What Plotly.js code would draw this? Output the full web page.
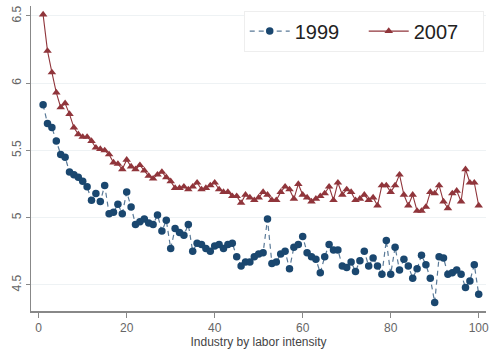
<!DOCTYPE html>
<html>
<head>
<meta charset="utf-8">
<script src="https://cdn.plot.ly/plotly-3.0.1.min.js"></script>
<style>
  html, body { margin: 0; padding: 0; background: #fff; }
  #chart { width: 490px; height: 350px; }
</style>
</head>
<body>
<div id="chart"></div>
<script>
// Industry rank by labor intensity (1..100)
const industry = Array.from({length: 100}, (_, k) => k + 1);

// Mean values per industry rank, 1999
const y1999 = [
  5.84, 5.70, 5.67, 5.57, 5.47, 5.45, 5.34, 5.32, 5.30, 5.27,
  5.23, 5.13, 5.18, 5.12, 5.24, 5.03, 5.04, 5.10, 5.03, 5.19,
  5.08, 4.95, 4.97, 4.99, 4.96, 4.95, 5.02, 4.90, 4.98, 4.77,
  4.92, 4.89, 4.87, 4.95, 4.75, 4.81, 4.80, 4.77, 4.75, 4.79,
  4.80, 4.77, 4.80, 4.81, 4.71, 4.64, 4.67, 4.67, 4.71, 4.73,
  4.74, 4.99, 4.66, 4.67, 4.73, 4.75, 4.62, 4.78, 4.80, 4.86,
  4.74, 4.71, 4.69, 4.59, 4.71, 4.80, 4.76, 4.76, 4.64, 4.63,
  4.67, 4.60, 4.68, 4.75, 4.64, 4.70, 4.64, 4.58, 4.83, 4.58,
  4.78, 4.61, 4.69, 4.64, 4.55, 4.62, 4.72, 4.65, 4.55, 4.37,
  4.71, 4.70, 4.58, 4.59, 4.61, 4.58, 4.48, 4.53, 4.65, 4.43
];

// Mean values per industry rank, 2007
const y2007 = [
  6.51, 6.24, 6.08, 5.93, 5.82, 5.85, 5.77, 5.67, 5.62, 5.60,
  5.60, 5.57, 5.52, 5.51, 5.50, 5.47, 5.41, 5.40, 5.36, 5.43,
  5.38, 5.36, 5.39, 5.35, 5.31, 5.29, 5.32, 5.34, 5.30, 5.27,
  5.22, 5.22, 5.23, 5.21, 5.23, 5.26, 5.21, 5.22, 5.24, 5.26,
  5.21, 5.19, 5.19, 5.16, 5.16, 5.11, 5.17, 5.15, 5.13, 5.15,
  5.19, 5.17, 5.13, 5.13, 5.19, 5.23, 5.21, 5.14, 5.25, 5.17,
  5.15, 5.12, 5.14, 5.16, 5.18, 5.23, 5.13, 5.26, 5.17, 5.21,
  5.19, 5.13, 5.14, 5.17, 5.13, 5.15, 5.09, 5.24, 5.24, 5.19,
  5.24, 5.32, 5.17, 5.09, 5.17, 5.05, 5.05, 5.08, 5.19, 5.18,
  5.24, 5.12, 5.07, 5.18, 5.20, 5.12, 5.36, 5.26, 5.26, 5.09
];

const seriesNames = ['1999', '2007'];
const yTicks = [4.5, 5, 5.5, 6, 6.5];
const xTicks = [0, 20, 40, 60, 80, 100];

const navy = '#1a476f';
const maroon = '#90353b';
const font = 'Liberation Sans, Arial, sans-serif';

const traces = [
  {
    x: industry, y: y1999, name: seriesNames[0], type: 'scatter', mode: 'lines+markers',
    line: {color: '#5a7a98', width: 1.2, dash: '5px,4px'},
    marker: {color: navy, size: 7.5, symbol: 'circle'}
  },
  {
    x: industry, y: y2007, name: seriesNames[1], type: 'scatter', mode: 'lines+markers',
    line: {color: maroon, width: 1.1},
    marker: {color: maroon, size: 7.5, symbol: 'triangle-up'}
  }
];

const layout = {
  width: 490, height: 350,
  margin: {l: 31, r: 4, t: 6, b: 39},
  paper_bgcolor: '#ffffff',
  plot_bgcolor: '#ffffff',
  font: {family: font, color: '#555'},
  showlegend: true,
  legend: {
    orientation: 'h',
    x: 0.995, xanchor: 'right', y: 0.985, yanchor: 'top',
    bgcolor: '#ffffff', bordercolor: '#eeeeee', borderwidth: 1,
    font: {family: font, size: 20, color: '#222'},
    itemwidth: 40, entrywidth: 64, entrywidthmode: 'pixels',
    tracegroupgap: 0
  },
  xaxis: {
    range: [-1.75, 101.66],
    tickvals: xTicks,
    ticks: 'outside', ticklen: 5, tickcolor: '#888',
    showline: true, linecolor: '#888', linewidth: 1.5,
    showgrid: false, zeroline: false,
    tickfont: {family: font, size: 12, color: '#666'},
    title: {text: 'Industry by labor intensity', font: {family: font, size: 12, color: '#444'}, standoff: 2}
  },
  yaxis: {
    range: [4.306, 6.574],
    tickvals: yTicks,
    ticktext: yTicks.map(String),
    tickangle: -90,
    ticks: 'outside', ticklen: 4, tickcolor: '#888',
    showline: true, linecolor: '#888', linewidth: 1.5,
    showgrid: true, gridcolor: '#eef2f4', gridwidth: 1,
    zeroline: false,
    tickfont: {family: font, size: 12, color: '#666'}
  }
};

Plotly.newPlot('chart', traces, layout, {displayModeBar: false, staticPlot: true});
</script>
</body>
</html>
